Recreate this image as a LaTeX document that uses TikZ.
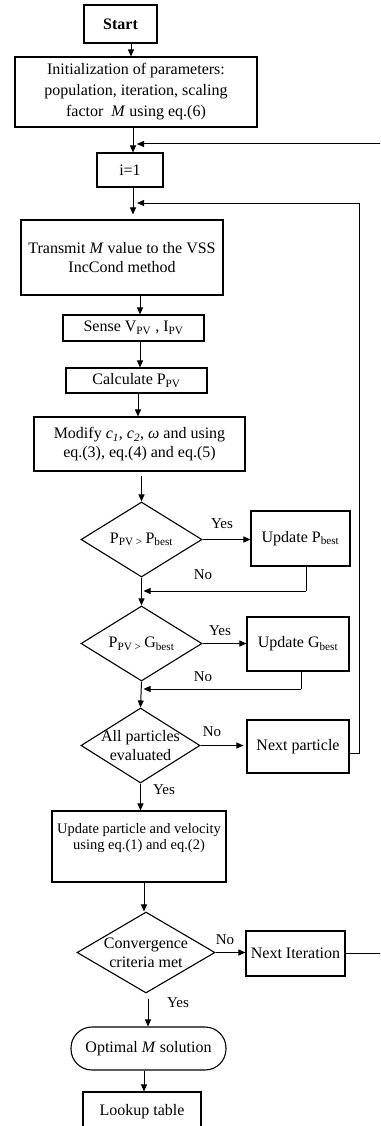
\documentclass[tikz,border=0pt]{standalone}
\usepackage{fontspec}
\setmainfont{Liberation Serif}
\usetikzlibrary{shapes.geometric,arrows.meta}
\newcommand\myfs{\fontsize{16}{19}\selectfont}
\newcommand\myfsi{\fontsize{16}{21}\selectfont}
\newcommand\myfss{\fontsize{14.5}{16}\selectfont}
\newcommand\mylbl{\fontsize{15}{17}\selectfont}
\tikzset{
  box/.style={draw, line width=1.1pt, inner sep=0pt, align=center, font=\myfs},
  dia/.style={draw, diamond, line width=1.1pt, inner sep=0pt},
  arr/.style={-{Triangle[length=7pt,width=6pt]}, line width=1pt},
  ln/.style={line width=1pt},
  lbl/.style={font=\mylbl, inner sep=0pt},
  dtxt/.style={align=center, font=\myfs, inner sep=0pt}
}
\begin{document}
\begin{tikzpicture}[x=1pt,y=-1pt]
\useasboundingbox (0,0) rectangle (380,1126);
\fill[white] (0,0) rectangle (380,1126);
\clip (0,0) rectangle (380,1126);

\node[box, minimum width=73pt, minimum height=38pt] (start) at (120.5,24) {\textbf{Start}};
\node[box, font=\myfsi, minimum width=242pt, minimum height=70pt] (init) at (136,92)
  {Initialization of parameters:\\population, iteration, scaling\\factor~ \textit{M} using eq.(6)};
\node[box, minimum width=66pt, minimum height=34pt] (i1) at (130,170) {i=1};
\node[box, minimum width=202pt, minimum height=75pt] (tr) at (122,257.5)
  {Transmit \textit{M} value to the VSS\\IncCond method};
\node[box, minimum width=141pt, minimum height=26pt] (sense) at (133.5,328)
  {Sense V\textsubscript{PV} , I\textsubscript{PV}};
\node[box, minimum width=141pt, minimum height=25pt] (calc) at (136.5,380.5)
  {Calculate P\textsubscript{PV}};
\node[box, minimum width=211pt, minimum height=54pt] (mod) at (139.5,444)
  {Modify \textit{c}\textsubscript{\textit{1}}, \textit{c}\textsubscript{\textit{2}}, \textit{ω} and using\\eq.(3), eq.(4) and eq.(5)};

\node[dia, minimum width=121pt, minimum height=75pt] (d1) at (141.5,539.5) {};
\node[dtxt] (d1t) at (d1.center) {P\textsubscript{PV > }P\textsubscript{best}};
\node[box, minimum width=99pt, minimum height=55pt] (pb) at (300.5,538.5) {Update P\textsubscript{best}};

\node[dia, minimum width=121pt, minimum height=75pt] (d2) at (141.5,643.5) {};
\node[dtxt] (d2t) at (d2.center) {P\textsubscript{PV > }G\textsubscript{best}};
\node[box, minimum width=102pt, minimum height=54pt] (gb) at (298,644) {Update G\textsubscript{best}};

\node[dia, minimum width=119pt, minimum height=75pt] (d3) at (140.5,745.5) {};
\node[dtxt] (d3t) at (d3.center) {All particles\\evaluated};
\node[box, minimum width=102pt, minimum height=53pt] (np) at (298,746.5) {Next particle};

\node[box, font=\myfss, minimum width=174pt, minimum height=71pt] (up) at (139,846.5)
  {Update particle and velocity\\using eq.(1) and eq.(2)\\[4pt]};

\node[dia, minimum width=138pt, minimum height=81pt] (d4) at (146,952.5) {};
\node[dtxt] (d4t) at (d4.center) {Convergence\\criteria met};
\node[box, minimum width=99pt, minimum height=45pt] (ni) at (295.5,953.5) {Next Iteration};

\node[box, rounded corners=21pt, minimum width=155pt, minimum height=43pt] (opt) at (148.5,1048.5)
  {Optimal \textit{M} solution};
\node[box, minimum width=118pt, minimum height=40pt] (look) at (142,1112) {Lookup table};

% labels
\node[lbl] (y1) at (222,524) {Yes};
\node[lbl] (n1) at (203,575) {No};
\node[lbl] (y2) at (220,631) {Yes};
\node[lbl] (n2) at (203,677) {No};
\node[lbl] (n3) at (212,732) {No};
\node[lbl] (y3) at (164,790) {Yes};
\node[lbl] (n4) at (225,940) {No};
\node[lbl] (y4) at (178,1003) {Yes};

% loop coordinates
\coordinate (pbm) at (306,591);
\coordinate (gbm) at (301,689);
\coordinate (lpA) at (359,753);
\coordinate (lpB) at (359,203);
\coordinate (lpC) at (381,953.5);
\coordinate (lpD) at (381,144);

% connectors
\draw[arr] (start.south -| 131,0) -- (init.north -| 131,0);
\draw[arr] (init.south -| 133,0) -- (i1.north -| 133,0);
\draw[arr, shorten >=5pt] (i1.south -| 133,0) -- (tr.north -| 133,0);
\draw[arr] (tr.south -| 140,0) -- (sense.north -| 140,0);
\draw[arr] (sense.south -| 140,0) -- (calc.north -| 140,0);
\draw[arr] (calc.south -| 138,0) -- (mod.north -| 138,0);
\draw[arr, shorten <=4pt] (mod.south -| d1.north) -- (d1.north);

\draw[arr] (d1.east) -- (pb.west |- d1.east);
\draw[ln] (pb.south -| pbm) -- (pbm);
\draw[arr] (pbm) -- (143.5,591);
\draw[arr] (d1.south) -- (d2.north);

\draw[arr] (d2.east) -- (gb.west |- d2.east);
\draw[ln] (gb.south -| gbm) -- (gbm);
\draw[arr] (gbm) -- (143.5,689);
\draw[arr] (d2.south) -- (d3.north);

\draw[arr, shorten >=3pt] (d3.east) -- (np.west |- d3.east);
\draw[arr] (np.east |- lpA) -- (lpA) -- (lpB) -- (137,203);

\draw[arr] (d3.south) -- (up.north -| d3.south);
\draw[arr] (up.south -| 144,0) -- (d4.north -| 144,0);

\draw[arr] (d4.east) -- (ni.west |- d4.east);
\draw[arr] (ni.east) -- (lpC) -- (lpD) -- (137,144);

\draw[arr, shorten <=5pt] (d4.south -| 148,0) -- (opt.north -| 148,0);
\draw[arr] (opt.south -| 144,0) -- (look.north -| 144,0);
\end{tikzpicture}
\end{document}
